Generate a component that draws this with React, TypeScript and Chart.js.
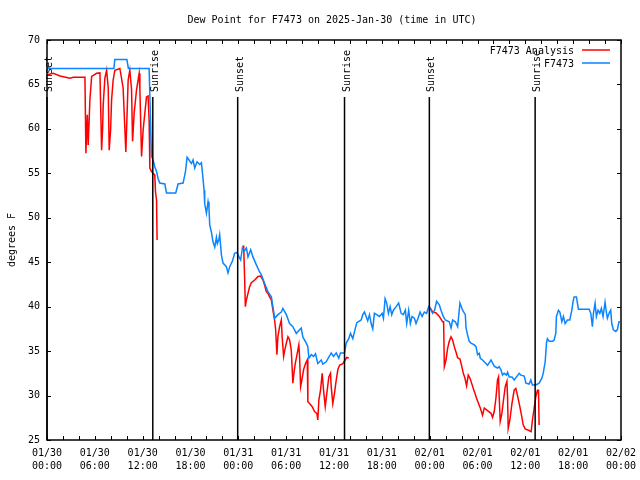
import React, { useEffect, useRef } from 'react';
import { Chart, registerables } from 'chart.js';

Chart.register(...registerables);

const TITLE = 'Dew Point for F7473 on 2025-Jan-30 (time in UTC)';
const Y_TITLE = 'degrees F';
const SERIES_NAMES = ['F7473 Analysis', 'F7473'];
const SERIES_COLORS = ['#ff0000', '#0a84ff'];

const X_TICK_DATES = ['01/30', '01/30', '01/30', '01/30', '01/31', '01/31', '01/31', '01/31', '02/01', '02/01', '02/01', '02/01', '02/02'];
const X_TICK_TIMES = ['00:00', '06:00', '12:00', '18:00', '00:00', '06:00', '12:00', '18:00', '00:00', '06:00', '12:00', '18:00', '00:00'];

const SUN_EVENTS = ['Sunset', 'Sunrise', 'Sunset', 'Sunrise', 'Sunset', 'Sunrise'];
const SUN_HOURS = [0, 13.27, 23.92, 37.32, 47.96, 61.23];
const SUN_LINE_TOP = 63.6;
const SUN_LABEL_BASE = 64.15;

// F7473 observations (hours since 01/30 00:00 UTC, deg F)
const OBS_HOURS = [
  0.0, 8.39, 8.51, 10.02, 10.21, 12.81, 13.11, 13.31, 13.52, 13.74, 13.94, 14.15, 14.78, 14.99, 16.15, 16.44, 17.07, 17.37, 17.57, 17.82,
  18.12, 18.32, 18.53, 18.82, 19.16, 19.37, 19.57, 19.7, 19.78, 20.0, 20.2, 20.32, 20.41, 20.62, 20.82, 21.04, 21.25, 21.37, 21.54, 21.66,
  21.88, 22.08, 22.5, 22.7, 22.92, 23.25, 23.54, 23.83, 24.08, 24.29, 24.51, 24.79, 25.01, 25.21, 25.55, 25.83, 26.26, 26.67, 26.88, 27.3,
  27.71, 28.14, 28.34, 28.55, 28.96, 29.39, 29.59, 30.02, 30.43, 30.84, 31.27, 31.68, 31.89, 32.09, 32.52, 32.72, 32.85, 33.15, 33.43, 33.68,
  33.97, 34.4, 34.6, 35.02, 35.44, 35.65, 35.94, 36.28, 36.6, 36.81, 37.32, 37.53, 37.85, 38.07, 38.36, 38.57, 38.86, 39.41, 39.61, 39.82,
  40.03, 40.23, 40.45, 40.66, 40.86, 41.07, 41.36, 41.7, 42.04, 42.2, 42.41, 42.61, 42.83, 43.04, 43.24, 43.45, 43.79, 44.11, 44.42, 44.7,
  44.95, 45.12, 45.37, 45.58, 45.79, 46.08, 46.29, 46.54, 46.8, 47.05, 47.33, 47.62, 47.87, 48.17, 48.37, 48.62, 48.87, 49.21, 49.42, 49.71,
  49.96, 50.46, 50.68, 50.88, 51.22, 51.51, 51.8, 52.13, 52.47, 52.56, 52.76, 52.97, 53.18, 53.6, 53.81, 54.01, 54.22, 54.35, 54.63, 55.06,
  55.26, 55.69, 56.1, 56.51, 56.72, 56.94, 57.14, 57.35, 57.64, 57.77, 57.98, 58.32, 58.6, 58.89, 59.23, 59.44, 59.86, 60.07, 60.48, 60.69,
  60.89, 61.32, 61.73, 62.07, 62.24, 62.49, 62.65, 62.77, 62.99, 63.4, 63.61, 63.82, 63.9, 64.15, 64.33, 64.58, 64.78, 64.99, 65.28, 65.58,
  65.83, 65.99, 66.12, 66.41, 66.66, 68.0, 68.21, 68.41, 68.54, 68.75, 68.91, 69.12, 69.34, 69.54, 69.75, 70.0, 70.16, 70.29, 70.5, 70.71,
  70.84, 71.04, 71.34, 71.54, 71.75, 71.88,
];
const OBS_VALUES = [
  66.8, 66.8, 67.8, 67.8, 66.8, 66.8, 56.9, 56.5, 55.75, 55.2, 54.4, 53.9, 53.8, 52.8, 52.8, 53.8, 53.9, 55.2, 56.8, 56.5,
  56.1, 56.5, 55.6, 56.3, 56.0, 56.2, 54.4, 53.1, 51.6, 50.5, 51.8, 51.1, 49.2, 48.4, 47.3, 46.7, 47.8, 47.1, 47.5, 48.1,
  45.8, 44.9, 44.5, 43.8, 44.5, 45.1, 46.0, 46.1, 45.6, 45.25, 46.6, 46.3, 46.6, 45.6, 46.4, 45.6, 44.7, 43.9, 43.6, 42.6,
  41.7, 41.1, 40.0, 38.7, 39.1, 39.4, 39.8, 39.1, 38.1, 37.75, 37.0, 37.4, 37.6, 36.6, 35.9, 35.5, 34.2, 34.6, 34.4, 34.7,
  33.6, 34.0, 33.55, 33.8, 34.45, 34.8, 34.4, 34.8, 34.2, 34.8, 34.8, 35.9, 36.4, 37.0, 36.4, 37.2, 38.2, 38.5, 39.1, 39.4,
  38.9, 38.4, 39.1, 38.1, 37.5, 39.25, 39.1, 38.9, 39.25, 38.7, 40.9, 40.4, 39.25, 40.0, 39.1, 39.6, 40.0, 40.4, 39.25, 39.1,
  39.6, 38.1, 39.6, 38.1, 38.9, 38.7, 38.1, 38.7, 39.4, 38.9, 39.4, 39.25, 40.0, 39.6, 39.25, 39.6, 40.6, 40.2, 39.6, 38.9,
  38.5, 38.3, 37.6, 38.5, 38.3, 37.75, 40.4, 39.6, 39.1, 37.6, 36.8, 36.1, 35.9, 35.7, 35.5, 34.6, 34.75, 34.2, 34.0, 33.6,
  33.4, 34.0, 33.3, 33.1, 33.25, 32.9, 32.3, 32.5, 32.3, 32.6, 32.1, 32.1, 31.75, 32.1, 32.5, 32.3, 32.2, 31.4, 31.3, 31.75,
  31.2, 31.2, 31.4, 31.95, 32.5, 33.8, 35.9, 36.4, 36.1, 36.1, 36.25, 37.0, 38.9, 39.6, 39.4, 38.3, 38.9, 38.1, 38.5, 38.5,
  39.6, 40.6, 41.1, 41.1, 39.7, 39.7, 39.25, 37.75, 39.25, 40.4, 38.9, 39.6, 39.25, 39.8, 38.9, 40.5, 39.4, 38.7, 39.25, 39.6,
  38.1, 37.4, 37.2, 37.4, 38.3, 38.3,
];

// F7473 Analysis (null = no analysis available)
const ANA_HOURS = [
  0.0, 0.79, 1.63, 2.88, 3.29, 4.76, 4.88, 5.05, 5.17, 5.38, 5.6, 6.22, 6.64, 6.85, 6.97, 7.05, 7.26, 7.48, 7.68, 7.8,
  7.98, 8.1, 8.3, 8.51, 9.14, 9.55, 9.77, 9.89, 10.06, 10.18, 10.39, 10.61, 10.73, 10.93, 11.23, 11.56, 11.65, 11.86, 12.06, 12.27,
  12.48, 12.68, 12.81, 12.9, 13.11, 13.31, 13.52, 13.61, 13.74, 13.81, 18.0,
  24.51, 24.67, 24.79, 24.88, 25.01, 25.21, 25.42, 25.63, 26.05, 26.46, 26.8, 27.09, 27.3, 27.51, 27.71, 27.92, 28.14, 28.34, 28.55,
  28.68, 28.84, 28.96, 29.18, 29.39, 29.51, 29.68, 29.8, 30.02, 30.22, 30.43, 30.64, 30.84, 30.97, 31.14, 31.39, 31.59, 31.68, 31.81, 31.97,
  32.18, 32.43, 32.65, 32.72, 32.93, 33.27, 33.56, 33.85, 33.97, 34.1, 34.31, 34.52, 34.69, 34.9, 35.1, 35.35, 35.56, 35.65, 35.85, 36.06,
  36.28, 36.48, 36.69, 37.1, 37.4, 37.6, 37.85, 43.0,
  47.96, 48.37, 48.8, 49.21, 49.62, 49.75, 49.84, 50.05, 50.25, 50.46, 50.68, 50.88, 51.09, 51.3, 51.51, 51.8, 52.0, 52.22, 52.43, 52.63,
  52.84, 53.06, 53.26, 53.47, 53.68, 53.88, 54.13, 54.35, 54.63, 54.85, 55.26, 55.69, 55.89, 56.1, 56.31, 56.51, 56.64, 56.72, 56.85, 57.06,
  57.26, 57.48, 57.69, 57.77, 57.85, 58.06, 58.32, 58.6, 58.81, 59.02, 59.31, 59.56, 59.73, 59.98, 60.39, 60.73, 60.89, 61.11, 61.32, 61.52,
  61.65, 61.73, 61.82,
];
const ANA_VALUES = [
  66.1, 66.25, 65.95, 65.7, 65.8, 65.8, 57.25, 61.6, 58.2, 63.25, 65.9, 66.25, 66.3, 57.6, 59.9, 62.7, 65.7, 66.6, 64.6, 57.6,
  59.9, 63.25, 65.5, 66.6, 66.8, 64.6, 59.9, 57.4, 62.1, 65.5, 66.6, 64.4, 58.6, 61.75, 64.4, 66.25, 64.4, 56.9, 59.9, 61.75,
  63.6, 63.7, 61.0, 55.6, 55.2, 55.0, 54.8, 52.9, 52.0, 47.5, null,
  46.8, 46.8, 43.2, 40.0, 40.75, 41.5, 42.25, 42.7, 43.0, 43.4, 43.45, 43.0, 42.4, 41.7, 41.5, 41.1, 40.75, 39.6, 38.5,
  37.4, 34.6, 36.6, 37.75, 38.5, 36.4, 34.4, 35.0, 35.9, 36.6, 36.25, 35.1, 31.4, 32.5, 33.6, 34.75, 35.7, 34.4, 31.0, 31.75,
  32.9, 33.6, 34.0, 29.3, 29.1, 28.75, 28.2, 28.0, 27.25, 29.5, 30.6, 32.5, 30.6, 28.75, 30.25, 32.1, 32.5, 31.0, 29.1, 30.25,
  31.75, 32.9, 33.4, 33.6, 34.0, 34.3, 34.2, null,
  40.0, 39.4, 39.3, 38.9, 38.3, 38.3, 33.25, 34.0, 35.3, 36.1, 36.6, 36.25, 35.5, 34.9, 34.25, 34.1, 33.4, 32.5, 31.95, 31.1,
  32.3, 31.95, 31.4, 30.8, 30.25, 29.7, 29.1, 28.6, 27.8, 28.6, 28.3, 28.0, 27.55, 28.2, 29.7, 31.75, 32.1, 29.9, 27.1, 28.0,
  29.5, 31.0, 31.6, 29.9, 26.3, 27.25, 29.1, 30.6, 30.8, 30.0, 28.75, 27.6, 26.7, 26.25, 26.1, 25.95, 27.25, 28.6, 29.9, 30.6,
  30.6, 26.7, 26.7,
];

const Y_MIN = 25;
const Y_MAX = 70;
const X_MIN = 0;
const X_MAX = 72;

const FONT_FAMILY = '"DejaVu Sans Mono", "Liberation Mono", monospace';
const FONT = `10px ${FONT_FAMILY}`;

function toPoints(hours: number[], values: (number | null)[]) {
  return hours.map((h, i) => ({ x: h, y: values[i] }));
}

const decorPlugin = {
  id: 'decor',
  afterDatasetsDraw(chart: any) {
    const { ctx, chartArea: a, scales } = chart;
    const x = scales.x;
    const y = scales.y;
    ctx.save();
    ctx.strokeStyle = '#000';
    ctx.fillStyle = '#000';
    ctx.font = FONT;

    // sunrise / sunset markers
    ctx.lineWidth = 1.5;
    SUN_HOURS.forEach((h, i) => {
      const px = x.getPixelForValue(h);
      ctx.beginPath();
      ctx.moveTo(px, y.getPixelForValue(SUN_LINE_TOP));
      ctx.lineTo(px, a.bottom);
      ctx.stroke();
      ctx.save();
      ctx.translate(px + 5, y.getPixelForValue(SUN_LABEL_BASE));
      ctx.rotate(-Math.PI / 2);
      ctx.textAlign = 'left';
      ctx.textBaseline = 'alphabetic';
      ctx.fillText(SUN_EVENTS[i], 0, 0);
      ctx.restore();
    });

    // frame
    ctx.lineWidth = 1.5;
    ctx.strokeRect(a.left, a.top, a.right - a.left, a.bottom - a.top);

    // inward ticks
    ctx.lineWidth = 1;
    const tl = 4;
    x.ticks.forEach((t: any) => {
      const px = Math.round(x.getPixelForValue(t.value)) + 0.5;
      ctx.beginPath();
      ctx.moveTo(px, a.bottom);
      ctx.lineTo(px, a.bottom - tl);
      ctx.moveTo(px, a.top);
      ctx.lineTo(px, a.top + tl);
      ctx.stroke();
    });
    y.ticks.forEach((t: any) => {
      const py = Math.round(y.getPixelForValue(t.value)) + 0.5;
      ctx.beginPath();
      ctx.moveTo(a.left, py);
      ctx.lineTo(a.left + tl, py);
      ctx.moveTo(a.right, py);
      ctx.lineTo(a.right - tl, py);
      ctx.stroke();
    });

    // legend
    ctx.textAlign = 'right';
    ctx.textBaseline = 'middle';
    ctx.lineWidth = 1.5;
    SERIES_NAMES.forEach((name, i) => {
      const ly = a.top + 10 + i * 13;
      ctx.fillStyle = '#000';
      ctx.fillText(name, a.right - 47, ly + 1);
      ctx.strokeStyle = SERIES_COLORS[i];
      ctx.beginPath();
      ctx.moveTo(a.right - 39, ly);
      ctx.lineTo(a.right - 11, ly);
      ctx.stroke();
    });

    // title
    ctx.fillStyle = '#000';
    ctx.textAlign = 'center';
    ctx.textBaseline = 'middle';
    ctx.fillText(TITLE, (a.left + a.right) / 2 - 2, 20);

    // y axis title
    ctx.save();
    ctx.translate(12, (a.top + a.bottom) / 2);
    ctx.rotate(-Math.PI / 2);
    ctx.fillText(Y_TITLE, 0, 0);
    ctx.restore();

    ctx.restore();
  },
};

export default function App() {
  const ref = useRef<HTMLCanvasElement>(null);
  useEffect(() => {
    const canvas = ref.current;
    if (!canvas) return;
    const chart = new Chart(canvas, {
      type: 'line',
      data: {
        datasets: [
          {
            label: SERIES_NAMES[1],
            data: toPoints(OBS_HOURS, OBS_VALUES),
            borderColor: SERIES_COLORS[1],
            borderWidth: 1.5,
            pointRadius: 0,
            tension: 0,
            fill: false,
            spanGaps: false,
          },
          {
            label: SERIES_NAMES[0],
            data: toPoints(ANA_HOURS, ANA_VALUES),
            borderColor: SERIES_COLORS[0],
            borderWidth: 1.5,
            pointRadius: 0,
            tension: 0,
            fill: false,
            spanGaps: false,
          },
        ],
      },
      options: {
        responsive: false,
        animation: false,
        devicePixelRatio: 1,
        layout: { padding: { top: 40, right: 19, left: 0, bottom: 0 } },
        plugins: {
          legend: { display: false },
          tooltip: { enabled: false },
          title: { display: false },
        },
        events: [],
        scales: {
          x: {
            type: 'linear',
            min: X_MIN,
            max: X_MAX,
            grid: { display: false, drawTicks: false },
            border: { display: false },
            ticks: {
              stepSize: 2,
              autoSkip: false,
              maxRotation: 0,
              minRotation: 0,
              padding: 7,
              color: '#000',
              font: { family: FONT_FAMILY, size: 10, lineHeight: 1.3 },
              callback: (v: any) => {
                const n = Number(v);
                if (n % 6 !== 0) return '';
                const idx = n / 6;
                return [X_TICK_DATES[idx], X_TICK_TIMES[idx]];
              },
            },
            afterFit: (s: any) => {
              s.height = 40;
              s.paddingLeft = 0;
              s.paddingRight = 0;
            },
          },
          y: {
            type: 'linear',
            min: Y_MIN,
            max: Y_MAX,
            grid: { display: false, drawTicks: false },
            border: { display: false },
            ticks: {
              stepSize: 5,
              padding: 7,
              color: '#000',
              font: { family: FONT_FAMILY, size: 10 },
            },
            afterFit: (s: any) => {
              s.width = 47;
              s.paddingTop = 0;
              s.paddingBottom = 0;
            },
          },
        },
      },
      plugins: [decorPlugin],
    } as any);
    return () => chart.destroy();
  }, []);

  return (
    <div style={{ position: 'fixed', left: 0, top: 0, width: 640, height: 480, background: '#fff' }}>
      <canvas ref={ref} width={640} height={480} style={{ display: 'block' }} />
    </div>
  );
}
